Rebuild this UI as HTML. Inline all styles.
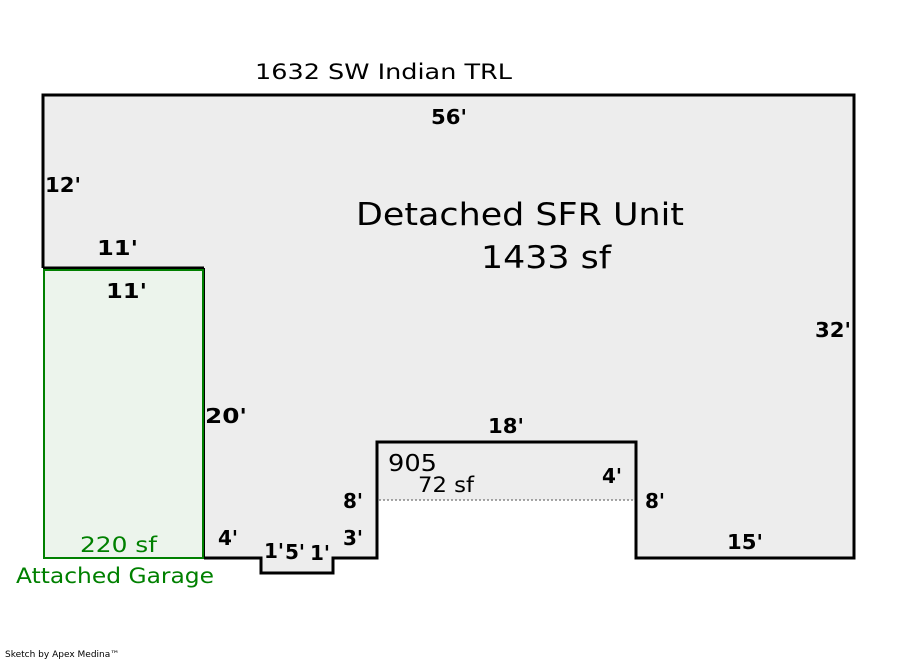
<!DOCTYPE html>
<html><head><meta charset="utf-8"><style>
html,body{margin:0;padding:0;background:#fff;width:900px;height:660px;overflow:hidden}
svg text{font-family:"DejaVu Sans","Liberation Sans",sans-serif}
.b{font-weight:bold;font-size:20px;fill:#000}
</style></head><body>
<svg width="900" height="660" viewBox="0 0 900 660" xmlns="http://www.w3.org/2000/svg">
<polygon points="43,95 854,95 854,558 636,558 636,500 377,500 377,558 333,558 333,573 261,573 261,558 43,558" fill="#ededed"/>
<rect x="44" y="269" width="159" height="289" fill="#ecf4ec"/>
<polyline points="43,268 43,95 854,95 854,558 636,558 636,442 377,442 377,558 333,558 333,573 261,573 261,558 204,558" fill="none" stroke="#000" stroke-width="3"/>
<line x1="43" y1="268" x2="204" y2="268" stroke="#000" stroke-width="3"/>
<line x1="204" y1="268" x2="204" y2="558" stroke="#000" stroke-width="2"/>
<rect x="44" y="270" width="159" height="288" fill="none" stroke="#008000" stroke-width="2"/>
<line x1="379" y1="500" x2="635" y2="500" stroke="#888" stroke-width="1.5" stroke-dasharray="2,2"/>
<text x="255" y="79" font-size="21" textLength="257" lengthAdjust="spacingAndGlyphs">1632 SW Indian TRL</text>
<text x="431" y="124" class="b" textLength="36" lengthAdjust="spacingAndGlyphs">56'</text>
<text x="45" y="192" class="b" textLength="36" lengthAdjust="spacingAndGlyphs">12'</text>
<text x="356" y="225" font-size="31" textLength="328" lengthAdjust="spacingAndGlyphs">Detached SFR Unit</text>
<text x="481" y="268" font-size="31" textLength="130" lengthAdjust="spacingAndGlyphs">1433 sf</text>
<text x="97" y="255" class="b" textLength="41" lengthAdjust="spacingAndGlyphs">11'</text>
<text x="106" y="298" class="b" textLength="41" lengthAdjust="spacingAndGlyphs">11'</text>
<text x="815" y="337" class="b" textLength="36" lengthAdjust="spacingAndGlyphs">32'</text>
<text x="205" y="423" class="b" textLength="42" lengthAdjust="spacingAndGlyphs">20'</text>
<text x="488" y="433" class="b" textLength="36" lengthAdjust="spacingAndGlyphs">18'</text>
<text x="388" y="471" font-size="23" textLength="49" lengthAdjust="spacingAndGlyphs">905</text>
<text x="418" y="492" font-size="21" textLength="56" lengthAdjust="spacingAndGlyphs">72 sf</text>
<text x="602" y="483" class="b">4'</text>
<text x="343" y="508" class="b">8'</text>
<text x="645" y="508" class="b">8'</text>
<text x="343" y="545" class="b">3'</text>
<text x="218" y="545" class="b">4'</text>
<text x="264" y="558" class="b">1'</text>
<text x="285" y="559" class="b">5'</text>
<text x="310" y="560" class="b">1'</text>
<text x="727" y="549" class="b" textLength="36" lengthAdjust="spacingAndGlyphs">15'</text>
<text x="80" y="552" font-size="21" fill="#008000" textLength="77" lengthAdjust="spacingAndGlyphs">220 sf</text>
<text x="16" y="583" font-size="21" fill="#008000" textLength="198" lengthAdjust="spacingAndGlyphs">Attached Garage</text>
<text x="5" y="657" font-size="9" font-family="Liberation Sans, sans-serif">Sketch by Apex Medina™</text>
</svg>
</body></html>
